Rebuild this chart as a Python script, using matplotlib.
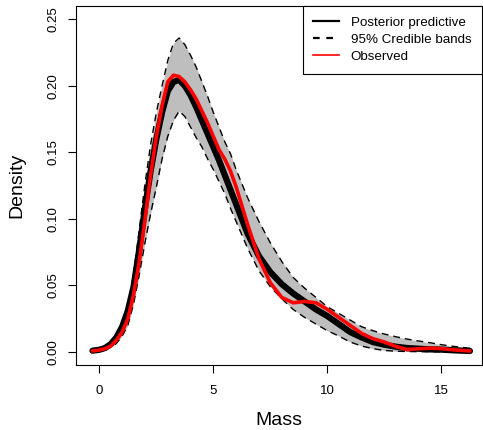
import matplotlib.pyplot as plt

plt.rcParams['font.family'] = ['Liberation Sans', 'DejaVu Sans']

# values
mass = [-0.3, 0.0, 0.25, 0.5, 0.75, 1.0, 1.25, 1.5, 1.75, 2.0, 2.25, 2.5, 2.75,
        3.0, 3.25, 3.5, 3.75, 4.0, 4.25, 4.5, 4.75, 5.0, 5.25, 5.5, 5.75, 6.0,
        6.5, 7.0, 7.5, 8.0, 8.5, 9.0, 9.5, 10.0, 10.5, 11.0, 11.5, 12.0, 12.5,
        13.0, 13.5, 14.0, 14.5, 15.0, 15.5, 16.25]

posterior = [0.001, 0.0017, 0.003, 0.006, 0.011, 0.019, 0.031, 0.049, 0.077,
             0.108, 0.136, 0.160, 0.180, 0.196, 0.203, 0.2045, 0.200, 0.193,
             0.184, 0.174, 0.164, 0.154, 0.144, 0.133, 0.122, 0.111, 0.089,
             0.072, 0.060, 0.051, 0.044, 0.038, 0.032, 0.027, 0.021, 0.015,
             0.011, 0.0075, 0.0055, 0.004, 0.003, 0.0025, 0.002, 0.0018, 0.0013,
             0.0008]

observed = [0.0008, 0.0015, 0.0025, 0.0045, 0.009, 0.015, 0.025, 0.043, 0.068,
            0.099, 0.133, 0.162, 0.185, 0.203, 0.208, 0.207, 0.203, 0.197,
            0.190, 0.181, 0.172, 0.162, 0.152, 0.145, 0.136, 0.124, 0.096,
            0.070, 0.052, 0.041, 0.037, 0.038, 0.037, 0.032, 0.026, 0.020,
            0.014, 0.010, 0.0075, 0.0042, 0.0018, 0.0025, 0.0029, 0.0026, 0.0017,
            0.0008]

upper = [0.001, 0.002, 0.004, 0.007, 0.012, 0.021, 0.035, 0.058, 0.092, 0.126,
         0.156, 0.180, 0.200, 0.219, 0.232, 0.236, 0.231, 0.223, 0.214, 0.203,
         0.192, 0.180, 0.169, 0.158, 0.149, 0.137, 0.116, 0.098, 0.082, 0.068,
         0.056, 0.048, 0.041, 0.034, 0.029, 0.024, 0.019, 0.016, 0.0135, 0.0115,
         0.0097, 0.0083, 0.007, 0.0055, 0.0043, 0.0028]

lower = [0.0003, 0.0008, 0.0018, 0.0035, 0.0065, 0.012, 0.020, 0.036, 0.058,
         0.082, 0.104, 0.124, 0.145, 0.162, 0.174, 0.181, 0.177, 0.169, 0.161,
         0.154, 0.145, 0.137, 0.128, 0.119, 0.108, 0.098, 0.078, 0.061, 0.049,
         0.040, 0.032, 0.026, 0.021, 0.016, 0.012, 0.0075, 0.0045, 0.0025,
         0.0012, 0.0006, 0.0004, 0.0003, 0.0002, 0.0002, 0.0001, 0.0001]

xticks = [0, 5, 10, 15]
yticks = [0.00, 0.05, 0.10, 0.15, 0.20, 0.25]

fig = plt.figure(figsize=(4.83, 4.30), dpi=100)
ax = fig.add_axes([0.157, 0.151, 0.841, 0.835])

# credible band
ax.fill_between(mass, lower, upper, color="#bebebe", lw=0)
ax.plot(mass, upper, color="black", lw=1.0, ls=(0, (5, 3.5)))
ax.plot(mass, lower, color="black", lw=1.0, ls=(0, (5, 3.5)))

# curves
ax.plot(mass, posterior, color="black", lw=4.5, solid_capstyle="round", solid_joinstyle="round")
ax.plot(mass, observed, color="red", lw=2.6, solid_capstyle="round", solid_joinstyle="round")

ax.set_xlim(-1.03, 16.78)
ax.set_ylim(-0.0098, 0.260)
ax.set_xticks(xticks)
ax.set_xticklabels([str(t) for t in xticks])
ax.set_yticks(yticks)
ax.set_yticklabels([f"{t:.2f}" for t in yticks], rotation=90, va="center")
ax.tick_params(direction="out", length=5.5, width=0.8, labelsize=9.5)
ax.tick_params(axis="x", pad=9)
ax.tick_params(axis="y", pad=6)
for s in ax.spines.values():
    s.set_linewidth(0.8)

ax.set_xlabel("Mass", fontsize=14, labelpad=11)
ax.set_ylabel("Density", fontsize=14, labelpad=16)

# legend
h1, = ax.plot([], [], color="black", lw=1.6)
h2, = ax.plot([], [], color="black", lw=1.6, ls=(0, (3, 3)))
h3, = ax.plot([], [], color="red", lw=1.2)
leg = ax.legend([h1, h2, h3], ["Posterior predictive", "95% Credible bands", "Observed"],
                loc="upper right", fontsize=9.6, frameon=True, fancybox=False,
                edgecolor="black", framealpha=1, borderaxespad=0, handlelength=1.9,
                labelspacing=0.35, borderpad=0.8, handletextpad=0.9)
leg.get_frame().set_linewidth(0.8)

fig.savefig("out.png", dpi=100)
